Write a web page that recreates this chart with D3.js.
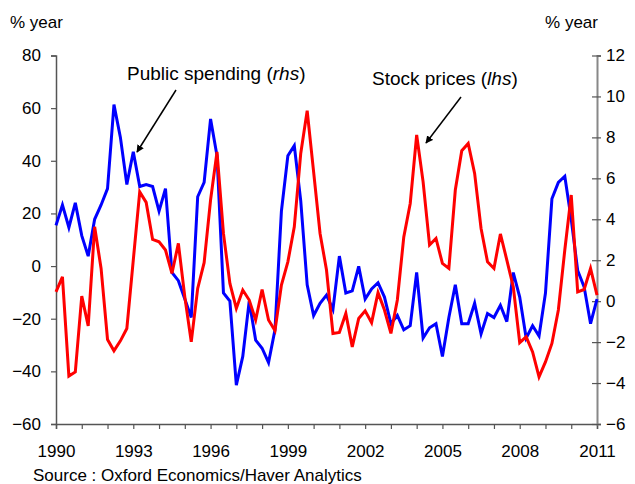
<!DOCTYPE html>
<html>
<head>
<meta charset="utf-8">
<script src="https://cdn.jsdelivr.net/npm/d3@7"></script>
<style>
  body { margin: 0; background: #fff; }
  svg text { font-family: "Liberation Sans", Arial, sans-serif; fill: #000; }
</style>
</head>
<body>
<div id="chart"></div>
<script>
// quarterly series, first point = 1990 Q1
const startYear = 1990;
const endYear = 2011;
const yearTicks = [1990, 1993, 1996, 1999, 2002, 2005, 2008, 2011];
const leftTicks = [-60, -40, -20, 0, 20, 40, 60, 80];
const rightTicks = [-6, -4, -2, 0, 2, 4, 6, 8, 10, 12];

// Stock prices, % year (left axis)
const stockPrices = [
  -9.8, -4.1, -41.8, -40.2, -11.4, -22.7, 14.9, -0.9, -27.9, -32.2,
  -28.4, -23.7, 2.3, 28.2, 24.2, 10.1, 9.2, 6.1, -2.8, 8.6,
  -11.7, -28.8, -8.5, 1.3, 25.1, 43.4, 12.4, -6.6, -16.1, -9.1,
  -12.9, -20.5, -8.9, -20.5, -24.5, -7.2, 1.6, 14.9, 42.8, 59.0,
  35.8, 12.4, -1.5, -25.6, -25.2, -18.0, -30.7, -19.9, -17.0, -21.5,
  -10.1, -16.7, -25.6, -12.9, 11.1, 23.8, 49.8, 32.0, 8.0, 10.5,
  1.0, -0.9, 28.9, 43.8, 46.6, 35.2, 14.3, 1.6, -0.9, 12.2,
  2.3, -7.9, -29.1, -26.9, -32.6, -42.1, -36.4, -29.4, -16.7, 6.1,
  27.0, -9.8, -8.9, -0.9, -11.0
];

// Public spending, % year (right axis)
const publicSpending = [
  3.7, 4.7, 3.6, 4.8, 3.2, 2.2, 4.0, 4.7, 5.5, 9.6,
  8.0, 5.7, 7.3, 5.6, 5.7, 5.6, 4.4, 5.5, 1.4, 1.0,
  0.1, -0.8, 5.1, 5.8, 8.9, 7.1, 0.4, 0.0, -4.1, -2.7,
  0.0, -1.9, -2.3, -3.0, -1.4, 4.4, 7.1, 7.6, 4.9, 0.8,
  -0.7, -0.1, 0.3, -0.4, 2.2, 0.4, 0.5, 1.7, 0.1, 0.6,
  0.9, 0.2, -1.1, -0.7, -1.4, -1.2, 1.4, -1.8, -1.3, -1.1,
  -2.7, -0.8, 0.8, -1.1, -1.1, -0.1, -1.6, -0.6, -0.8, -0.2,
  -1.0, 1.4, 0.2, -1.8, -1.2, -1.7, 0.4, 5.0, 5.8, 6.1,
  4.0, 1.5, 0.7, -1.1, 0.1
];

const width = 635, height = 484;
const plotLeft = 56, plotRight = 597, plotTop = 55.5, plotBottom = 424;

const svg = d3.select('#chart')
  .append('svg')
  .attr('width', width)
  .attr('height', height);

const x = d3.scaleLinear().domain([startYear, endYear]).range([plotLeft, plotRight]);
const yL = d3.scaleLinear().domain([-60, 80]).range([plotBottom, plotTop]);
const yR = d3.scaleLinear().domain([-6, 12]).range([plotBottom, plotTop]);

const t = i => startYear + i / 4;

// axes
const axisColor = '#555';

const gx = svg.append('g')
  .attr('transform', `translate(0,${plotBottom})`)
  .call(d3.axisBottom(x)
    .tickValues(d3.range(startYear, endYear + 1))
    .tickFormat(d => yearTicks.includes(d) ? d : '')
    .tickSize(5).tickPadding(16));

const gl = svg.append('g')
  .attr('transform', `translate(${plotLeft},0)`)
  .call(d3.axisLeft(yL).tickValues(leftTicks).tickSize(5).tickPadding(10));

const gr = svg.append('g')
  .attr('transform', `translate(${plotRight},0)`)
  .call(d3.axisRight(yR).tickValues(rightTicks).tickSize(4).tickPadding(5));

[gx, gl, gr].forEach(g => {
  g.selectAll('.domain').attr('stroke', axisColor).attr('stroke-width', 1.5);
  g.selectAll('.tick line').attr('stroke', axisColor).attr('stroke-width', 1.2);
  g.selectAll('.tick text').attr('font-size', 17).attr('fill', '#000');
});
gr.selectAll('.domain').attr('stroke', '#888').attr('stroke-width', 2);
gr.selectAll('.tick line').attr('x1', -5).attr('stroke', '#555');

// lines
const spendLine = d3.line().x((d, i) => x(t(i))).y(d => yR(d));
const stockLine = d3.line().x((d, i) => x(t(i))).y(d => yL(d));

svg.append('path')
  .datum(publicSpending)
  .attr('d', spendLine)
  .attr('fill', 'none')
  .attr('stroke', '#0000ff')
  .attr('stroke-width', 3)
  .attr('stroke-linejoin', 'miter');

svg.append('path')
  .datum(stockPrices)
  .attr('d', stockLine)
  .attr('fill', 'none')
  .attr('stroke', '#ff0000')
  .attr('stroke-width', 3)
  .attr('stroke-linejoin', 'miter');

// axis titles
svg.append('text').attr('x', 10).attr('y', 28).attr('font-size', 17).text('% year');
svg.append('text').attr('x', 598).attr('y', 28).attr('font-size', 17)
  .attr('text-anchor', 'end').text('% year');

// annotations
svg.append('defs').append('marker')
  .attr('id', 'head')
  .attr('viewBox', '0 0 10 10')
  .attr('refX', 9).attr('refY', 5)
  .attr('markerWidth', 5).attr('markerHeight', 5)
  .attr('orient', 'auto')
  .append('path').attr('d', 'M0,0L10,5L0,10z').attr('fill', '#000');

const pub = svg.append('text').attr('x', 127).attr('y', 80).attr('font-size', 19);
pub.append('tspan').text('Public spending (');
pub.append('tspan').attr('font-style', 'italic').text('rhs');
pub.append('tspan').text(')');

const stk = svg.append('text').attr('x', 372).attr('y', 85).attr('font-size', 19);
stk.append('tspan').text('Stock prices (');
stk.append('tspan').attr('font-style', 'italic').text('lhs');
stk.append('tspan').text(')');

svg.append('line')
  .attr('x1', 176).attr('y1', 90).attr('x2', 137).attr('y2', 152)
  .attr('stroke', '#000').attr('stroke-width', 1.5)
  .attr('marker-end', 'url(#head)');

svg.append('line')
  .attr('x1', 461).attr('y1', 97).attr('x2', 426).attr('y2', 143)
  .attr('stroke', '#000').attr('stroke-width', 1.5)
  .attr('marker-end', 'url(#head)');

// source
svg.append('text').attr('x', 33).attr('y', 481).attr('font-size', 17)
  .text('Source : Oxford Economics/Haver Analytics');
</script>
</body>
</html>
